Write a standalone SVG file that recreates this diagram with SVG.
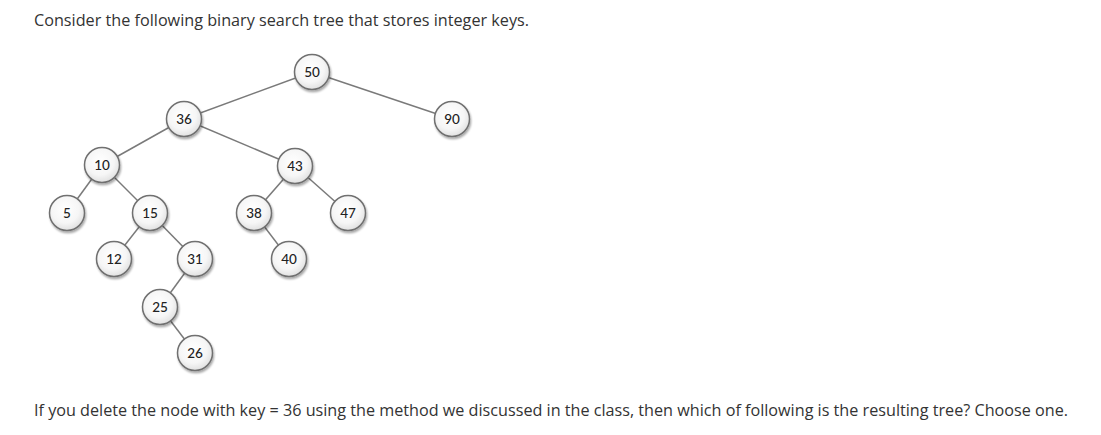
<svg xmlns="http://www.w3.org/2000/svg" width="1101" height="435" viewBox="0 0 1101 435">
<defs>
<radialGradient id="g" cx="0.45" cy="0.4" r="0.65">
<stop offset="0" stop-color="#ffffff"/>
<stop offset="0.6" stop-color="#f6f6f6"/>
<stop offset="1" stop-color="#dcdcdc"/>
</radialGradient>
<filter id="sh" x="-30%" y="-30%" width="160%" height="160%">
<feGaussianBlur in="SourceAlpha" stdDeviation="1.2"/>
<feOffset dx="1" dy="1.5" result="b"/>
<feComponentTransfer><feFuncA type="linear" slope="0.35"/></feComponentTransfer>
<feMerge><feMergeNode/><feMergeNode in="SourceGraphic"/></feMerge>
</filter>
</defs>
<style>
.q{font-family:"Open Sans","Noto Sans",sans-serif;font-size:16px;fill:#333}
.e line{stroke:#7a7a7a;stroke-width:1.5}
.n circle{fill:url(#g);stroke:#707070;stroke-width:1.5;filter:url(#sh)}
.n text{font-family:Lato,"Liberation Sans",sans-serif;font-size:13.5px;font-weight:500;fill:#222;text-anchor:middle}
</style>
<rect width="1101" height="435" fill="#ffffff"/>
<text class="q" x="34" y="26" textLength="495" lengthAdjust="spacingAndGlyphs">Consider the following binary search tree that stores integer keys.</text>
<g class="e" id="connectors">
<line x1="312" y1="72" x2="184" y2="119"/>
<line x1="312" y1="72" x2="452" y2="119"/>
<line x1="184" y1="119" x2="102" y2="165"/>
<line x1="184" y1="119" x2="295" y2="166"/>
<line x1="102" y1="165" x2="67" y2="213"/>
<line x1="102" y1="165" x2="150" y2="213"/>
<line x1="295" y1="166" x2="254" y2="213"/>
<line x1="295" y1="166" x2="348" y2="213"/>
<line x1="150" y1="213" x2="114" y2="259"/>
<line x1="150" y1="213" x2="195" y2="259"/>
<line x1="254" y1="213" x2="289" y2="259"/>
<line x1="195" y1="259" x2="160" y2="307"/>
<line x1="160" y1="307" x2="195" y2="353"/>
</g>
<g class="n" id="n50"><circle cx="312" cy="72" r="17.5"/><text x="312" y="76.5">50</text></g>
<g class="n" id="n36"><circle cx="184" cy="119" r="17.5"/><text x="184" y="123.5">36</text></g>
<g class="n" id="n90"><circle cx="452" cy="119" r="17.5"/><text x="452" y="123.5">90</text></g>
<g class="n" id="n10"><circle cx="102" cy="165" r="17.5"/><text x="102" y="169.5">10</text></g>
<g class="n" id="n43"><circle cx="295" cy="166" r="17.5"/><text x="295" y="170.5">43</text></g>
<g class="n" id="n5"><circle cx="67" cy="213" r="17.5"/><text x="67" y="217.5">5</text></g>
<g class="n" id="n15"><circle cx="150" cy="213" r="17.5"/><text x="150" y="217.5">15</text></g>
<g class="n" id="n38"><circle cx="254" cy="213" r="17.5"/><text x="254" y="217.5">38</text></g>
<g class="n" id="n47"><circle cx="348" cy="213" r="17.5"/><text x="348" y="217.5">47</text></g>
<g class="n" id="n12"><circle cx="114" cy="259" r="17.5"/><text x="114" y="263.5">12</text></g>
<g class="n" id="n31"><circle cx="195" cy="259" r="17.5"/><text x="195" y="263.5">31</text></g>
<g class="n" id="n40"><circle cx="289" cy="259" r="17.5"/><text x="289" y="263.5">40</text></g>
<g class="n" id="n25"><circle cx="160" cy="307" r="17.5"/><text x="160" y="311.5">25</text></g>
<g class="n" id="n26"><circle cx="195" cy="353" r="17.5"/><text x="195" y="357.5">26</text></g>
<text class="q" x="34" y="416" textLength="1034" lengthAdjust="spacingAndGlyphs">If you delete the node with key = 36 using the method we discussed in the class, then which of following is the resulting tree? Choose one.</text>
</svg>
